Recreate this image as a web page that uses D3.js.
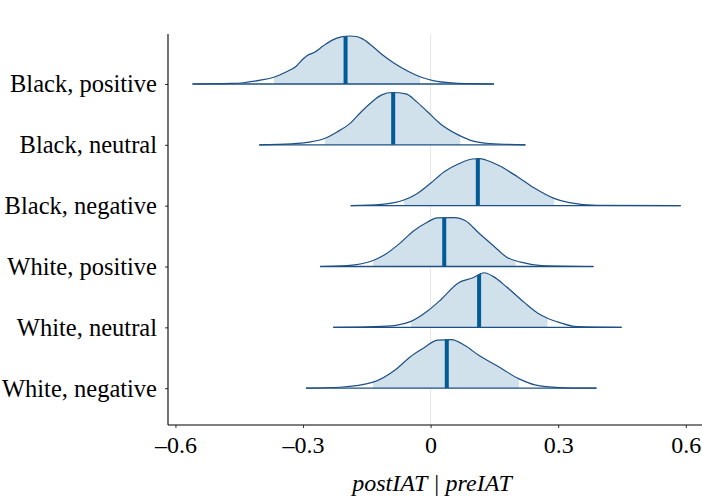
<!DOCTYPE html>
<html>
<head>
<meta charset="utf-8">
<script src="https://cdn.jsdelivr.net/npm/d3@7"></script>
<style>
  body { margin: 0; background: #fff; }
  svg { display: block; font-family: "Liberation Serif", "DejaVu Serif", serif; }
</style>
</head>
<body>
<svg id="chart" width="702" height="502"></svg>
<script>
const params = ["Black, positive", "Black, neutral", "Black, negative", "White, positive", "White, neutral", "White, negative"];

// [value, density] pairs
const densBlackPositive = [[-0.560, 0], [-0.47, 0.06], [-0.44, 0.13], [-0.40, 0.40], [-0.369, 0.70], [-0.34, 1.25], [-0.316, 1.85], [-0.300, 2.6], [-0.289, 3.0], [-0.273, 3.3], [-0.253, 3.95], [-0.23, 4.6], [-0.21, 4.9], [-0.19, 5.0], [-0.175, 4.95], [-0.16, 4.7], [-0.136, 3.9], [-0.115, 3.1], [-0.09, 2.3], [-0.066, 1.65], [-0.04, 1.05], [-0.02, 0.68], [0.008, 0.33], [0.057, 0.1], [0.10, 0.03], [0.149, 0]];
const densBlackNeutral = [[-0.403, 0], [-0.327, 0.1], [-0.286, 0.28], [-0.248, 0.69], [-0.221, 1.32], [-0.188, 2.29], [-0.164, 3.4], [-0.139, 4.44], [-0.115, 5.2], [-0.090, 5.45], [-0.058, 5.3], [-0.033, 4.5], [-0.008, 3.47], [0.024, 2.15], [0.065, 1.04], [0.098, 0.42], [0.139, 0.14], [0.223, 0]];
const densBlackNegative = [[-0.188, 0], [-0.115, 0.14], [-0.063, 0.59], [-0.033, 1.22], [0.000, 2.33], [0.032, 3.54], [0.065, 4.34], [0.098, 4.86], [0.115, 4.9], [0.130, 4.76], [0.163, 4.13], [0.204, 3.02], [0.245, 1.81], [0.290, 0.76], [0.326, 0.31], [0.391, 0.03], [0.588, 0]];
const densWhitePositive = [[-0.260, 0], [-0.196, 0.1], [-0.135, 0.63], [-0.107, 1.25], [-0.074, 2.36], [-0.041, 3.68], [-0.008, 4.62], [0.016, 5.07], [0.057, 5.1], [0.081, 4.79], [0.114, 3.47], [0.147, 2.19], [0.179, 0.97], [0.212, 0.45], [0.261, 0.1], [0.383, 0]];
const densWhiteNeutral = [[-0.229, 0], [-0.131, 0.07], [-0.082, 0.21], [-0.046, 0.62], [-0.008, 1.67], [0.024, 2.88], [0.065, 4.62], [0.098, 5.14], [0.126, 5.69], [0.147, 5.31], [0.179, 4.2], [0.220, 2.6], [0.253, 1.45], [0.275, 0.95], [0.302, 0.52], [0.343, 0.07], [0.449, 0]];
const densWhiteNegative = [[-0.293, 0], [-0.213, 0.1], [-0.135, 0.63], [-0.082, 1.94], [-0.049, 3.23], [-0.017, 4.17], [0.016, 5.0], [0.049, 5.07], [0.081, 4.44], [0.114, 3.4], [0.155, 2.36], [0.208, 0.97], [0.245, 0.35], [0.302, 0.07], [0.390, 0]];

const densities = [densBlackPositive, densBlackNeutral, densBlackNegative, densWhitePositive, densWhiteNeutral, densWhiteNegative];
const intervalLow = [-0.368, -0.248, -0.063, -0.135, -0.046, -0.135];
const intervalHigh = [-0.025, 0.070, 0.290, 0.200, 0.275, 0.208];
const medians = [-0.200, -0.088, 0.111, 0.032, 0.114, 0.038];

const xTicks = [-0.6, -0.3, 0, 0.3, 0.6];
const xTickLabels = ["\u20130.6", "\u20130.3", "0", "0.3", "0.6"];

const svg = d3.select("#chart");
const panel = { left: 168, right: 706, top: 34, bottom: 425 };

const x = d3.scaleLinear().domain([-0.6175, 0.6475]).range([panel.left, panel.right]);
const y = d3.scalePoint().domain(params).range([84, 388.2]);
const h = d3.scaleLinear().domain([0, 1]).range([0, 9.6]);

const defs = svg.append("defs");

// vertical reference line at zero
svg.append("line")
  .attr("x1", x(0)).attr("x2", x(0))
  .attr("y1", panel.top).attr("y2", panel.bottom)
  .attr("stroke", "#e6e6e6")
  .attr("stroke-width", 1);

params.forEach((p, i) => {
  const base = y(p);
  const pts = densities[i];
  const area = d3.area()
    .x(d => x(d[0]))
    .y0(base)
    .y1(d => base - h(d[1]))
    .curve(d3.curveMonotoneX);
  const line = d3.line()
    .x(d => x(d[0]))
    .y(d => base - h(d[1]))
    .curve(d3.curveMonotoneX);

  defs.append("clipPath").attr("id", `clip-int-${i}`)
    .append("rect")
    .attr("x", x(intervalLow[i]))
    .attr("y", 0)
    .attr("width", x(intervalHigh[i]) - x(intervalLow[i]))
    .attr("height", 502);

  defs.append("clipPath").attr("id", `clip-area-${i}`)
    .append("path")
    .attr("d", area(pts));

  const g = svg.append("g");

  g.append("path")
    .attr("d", area(pts))
    .attr("fill", "#d1e1ec")
    .attr("clip-path", `url(#clip-int-${i})`);

  g.append("rect")
    .attr("x", x(medians[i]) - 2)
    .attr("y", base - 70)
    .attr("width", 4)
    .attr("height", 70)
    .attr("fill", "#005b96")
    .attr("clip-path", `url(#clip-area-${i})`);

  g.append("path")
    .attr("d", line(pts))
    .attr("fill", "none")
    .attr("stroke", "#1d4f85")
    .attr("stroke-width", 1.2);

  g.append("line")
    .attr("x1", x(pts[0][0]))
    .attr("x2", x(pts[pts.length - 1][0]))
    .attr("y1", base).attr("y2", base)
    .attr("stroke", "#1d4f85")
    .attr("stroke-width", 1.3);
});

// y axis
const yAxis = svg.append("g")
  .attr("transform", `translate(${panel.left},0)`)
  .call(d3.axisLeft(y).tickSize(3).tickPadding(8));
yAxis.select(".domain").remove();
yAxis.selectAll(".tick line").attr("stroke", "#333");
yAxis.selectAll(".tick text")
  .attr("fill", "#000")
  .style("font-size", "24.5px")
  .style("font-family", "'Liberation Serif', serif");
svg.append("line")
  .attr("x1", panel.left).attr("x2", panel.left)
  .attr("y1", panel.top).attr("y2", panel.bottom)
  .attr("stroke", "#000").attr("stroke-width", 1.1);

// x axis
const xAxis = svg.append("g")
  .attr("transform", `translate(0,${panel.bottom})`)
  .call(d3.axisBottom(x).tickValues(xTicks).tickFormat((d, i) => xTickLabels[i]).tickSize(3).tickPadding(8));
xAxis.select(".domain").remove();
xAxis.selectAll(".tick line").attr("stroke", "#333");
xAxis.selectAll(".tick text")
  .attr("fill", "#000")
  .style("font-size", "24px")
  .style("font-family", "'Liberation Serif', serif");
svg.append("line")
  .attr("x1", panel.left).attr("x2", 702)
  .attr("y1", panel.bottom).attr("y2", panel.bottom)
  .attr("stroke", "#000").attr("stroke-width", 1.1);

svg.append("text")
  .attr("x", 432)
  .attr("y", 491)
  .attr("text-anchor", "middle")
  .style("font-size", "24px")
  .style("font-style", "italic")
  .text("postIAT | preIAT");
</script>
</body>
</html>
